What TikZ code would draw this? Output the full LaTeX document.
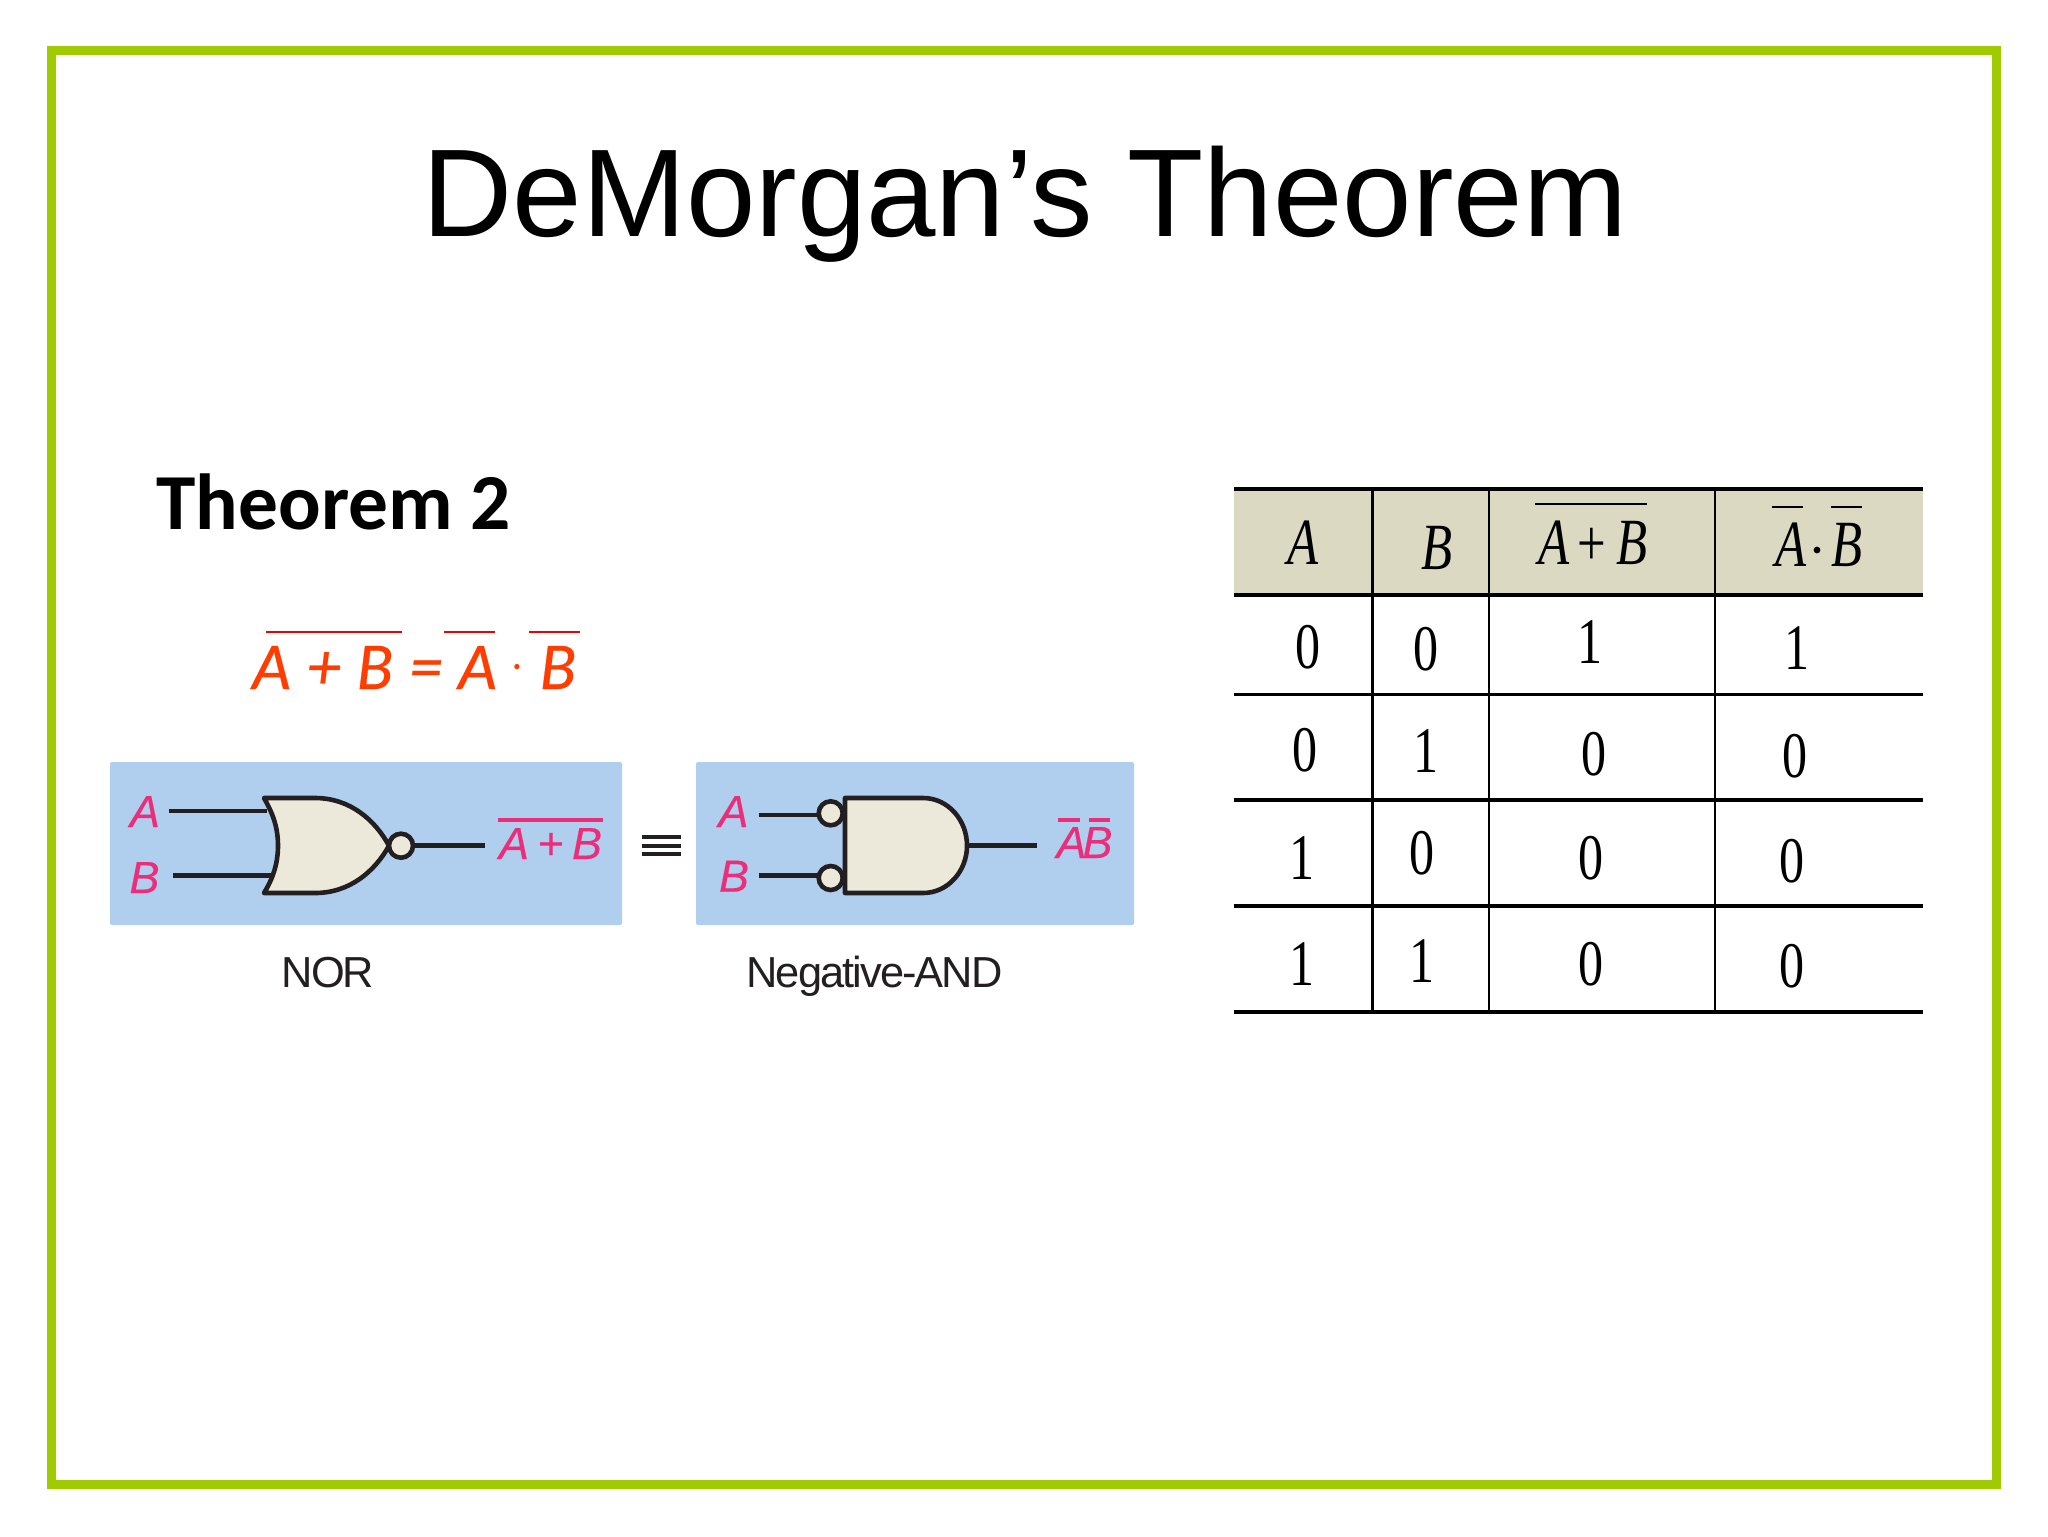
\documentclass[tikz,border=0pt]{standalone}
\usepackage{graphicx}
\usepackage{fontspec}
\setmainfont{Liberation Serif}
\newfontfamily\arialf{Liberation Sans}
\newfontfamily\arialb[FakeBold=0.25]{Liberation Sans}
\newfontfamily\tightf[LetterSpace=-4.5]{Liberation Sans}
\newfontfamily\carl{Carlito}
\newfontfamily\carlb[FakeBold=0.35]{Carlito}
\definecolor{framegreen}{HTML}{9FCB00}
\definecolor{panelblue}{HTML}{B0CEEE}
\definecolor{gatefill}{HTML}{ECE9DB}
\definecolor{wirec}{HTML}{231F20}
\definecolor{pinkc}{HTML}{EC2D7A}
\definecolor{headfill}{HTML}{DCD9C3}
\definecolor{orangec}{HTML}{FF3D00}
\newcommand{\sq}[1]{\scalebox{.77}[1]{#1}}
\tikzset{
  x=.5pt,y=-.5pt,
  every node/.style={inner sep=0pt,outer sep=0pt},
  titletext/.style={anchor=base,font=\arialf\fontsize{62.4}{62.4}\selectfont},
  thmtext/.style={anchor=base,font=\carl\bfseries\fontsize{39.7}{39.7}\selectfont},
  formula/.style={anchor=base,text=orangec,font=\carlb\itshape\fontsize{33.5}{33.5}\selectfont},
  formbar/.style={draw=red!95!black,line width=1.1pt},
  panel/.style={fill=panelblue,rounded corners=1pt},
  wire/.style={draw=wirec,line width=2.3pt},
  gatebody/.style={draw=wirec,fill=gatefill,line width=2.3pt,line join=round},
  bubble/.style={circle,draw=wirec,fill=gatefill,line width=2.3pt,minimum size=12pt},
  pinktext/.style={anchor=base,text=pinkc,font=\arialb\itshape\fontsize{22.5}{22.5}\selectfont},
  pinkbar/.style={draw=pinkc,line width=2pt},
  captext/.style={anchor=base,text=wirec,font=\tightf\fontsize{21.7}{21.7}\selectfont},
  hline/.style={draw=black,line width=1.7pt},
  vline/.style={draw=black,line width=1.2pt},
  hdr/.style={anchor=base,font=\itshape\fontsize{33}{33}\selectfont},
  hdrsym/.style={font=\fontsize{33}{33}\selectfont},
  hbar/.style={draw=black,line width=1.2pt},
  digit/.style={font=\fontsize{32.5}{32.5}\selectfont},
}
\begin{document}
\begin{tikzpicture}
\useasboundingbox (0,0) rectangle (2048,1536);
\fill[white] (0,0) rectangle (2048,1536);
% frame
\draw[framegreen,line width=4.5pt] (51.5,51) rectangle (1996.5,1484);
% title
\node[titletext] (title) at (1025,236) {DeMorgan’s Theorem};
\node[thmtext] (thm) at (334,529) {Theorem 2};
% formula
\node[formula] (fa1) at (271.5,689) {A};
\node[formula] (fp) at (324,689) {+};
\node[formula] (fb1) at (375,689) {B};
\node[formula] (fe) at (426,689) {=};
\node[formula] (fa2) at (477.5,689) {A};
\node[formula] (fd) at (517,679) {$\cdot$};
\node[formula] (fb2) at (558,689) {B};
\draw[formbar] (266,632) -- (402,632);
\draw[formbar] (444,632) -- (495,632);
\draw[formbar] (529,632) -- (580,632);
% panels
\fill[panel] (110,762) rectangle (622,925);
\fill[panel] (696,762) rectangle (1134,925);
% NOR gate
\node[pinktext] (na) at (145,827) {A};
\node[pinktext] (nb) at (144.5,893) {B};
\coordinate (nai) at (168.5,811);
\coordinate (naj) at (267,811);
\coordinate (nbi) at (173,875.7);
\coordinate (nbj) at (274,875.7);
\coordinate (nout) at (485,845.7);
\draw[wire] (nai) -- (naj);
\draw[wire] (nbi) -- (nbj);
\draw[gatebody] (264,798) -- (315,798) .. controls (350,798) and (375,820) .. (389,845.7)
  .. controls (375,871) and (350,893) .. (315,893) -- (264,893)
  .. controls (272,880) and (278,865) .. (278,845.7)
  .. controls (278,826) and (272,812) .. (264,798) -- cycle;
\node[bubble] (nbub) at (401,845.7) {};
\draw[wire] (nbub.east) -- (nout);
\node[pinktext] (oa) at (514,859) {A};
\node[pinktext] (op) at (551,859) {\upshape +};
\node[pinktext] (ob) at (587,859) {B};
\draw[pinkbar] (498,819.7) -- (602.5,819.7);
% equivalence
\draw[wire,line width=2pt] (641.5,836.7) -- (680.7,836.7);
\draw[wire,line width=2pt] (641.5,845.7) -- (680.7,845.7);
\draw[wire,line width=2pt] (641.5,854.4) -- (680.7,854.4);
% Negative-AND gate
\node[pinktext] (aa) at (733.5,827) {A};
\node[pinktext] (ab) at (734,891.7) {B};
\coordinate (aai) at (758.5,815);
\coordinate (abi) at (758.5,875.7);
\coordinate (aout) at (1037,845.7);
\coordinate (aoutj) at (967,845.7);
\node[bubble] (abub1) at (830.7,813.3) {};
\node[bubble] (abub2) at (830.7,878) {};
\draw[wire] (aai) -- (abub1.west |- aai);
\draw[wire] (abi) -- (abub2.west |- abi);
\draw[wire] (aoutj) -- (aout);
\draw[gatebody] (845,798) -- (923,798) .. controls (948,798) and (967,820) .. (967,845.7)
  .. controls (967,871) and (948,893) .. (923,893) -- (845,893) -- cycle;
\node[pinktext] (ra) at (1071.5,858) {A};
\node[pinktext] (rb) at (1097.5,858) {B};
\draw[pinkbar] (1058,819.7) -- (1080,819.7);
\draw[pinkbar] (1088.6,819.7) -- (1110,819.7);
% captions
\node[captext] (norcap) at (328,987.7) {NOR};
\node[captext] (negcap) at (874.5,987.7) {Negative-AND};
% table
\fill[headfill] (1234,489) rectangle (1922.5,595);
\foreach \yy in {489,595,694.3,800,906,1012}
  \draw[hline] (1234,\yy) -- (1922.5,\yy);
\foreach \xx in {1372.4,1489,1715}
  \draw[vline] (\xx,489) -- (\xx,1012);
\node[hdr] (ha) at (1303,564) {\sq{A}};
\node[hdr] (hb) at (1437,569) {\sq{B}};
\node[hdr] (h3a) at (1554,564) {\sq{A}};
\node[hdrsym] (h3p) at (1591.5,547) {\sq{+}};
\node[hdr] (h3b) at (1631.5,564) {\sq{B}};
\draw[hbar] (1535,504) -- (1647,504);
\node[hdr] (h4a) at (1791,566.7) {\sq{A}};
\fill (1817,550) circle (3.4);
\node[hdr] (h4b) at (1846.5,566.7) {\sq{B}};
\draw[hbar] (1772,506.7) -- (1803,506.7);
\draw[hbar] (1830.6,506.7) -- (1862,506.7);
\foreach \xx/\yy/\tx/\nm in {
  1308/647/0/d11,1426/649.5/0/d12,1589.6/642/1/d13,1797/648/1/d14,
  1305/750.5/0/d21,1426/751/1/d22,1594/753.7/0/d23,1795/756/0/d24,
  1302/858/1/d31,1422/853/0/d32,1590.5/858/0/d33,1791.5/861/0/d34,
  1302/964/1/d41,1422/961/1/d42,1590.5/964.5/0/d43,1791.5/966.5/0/d44}
  \node[digit] (\nm) at (\xx,\yy) {\sq{\tx}};
\end{tikzpicture}
\end{document}
